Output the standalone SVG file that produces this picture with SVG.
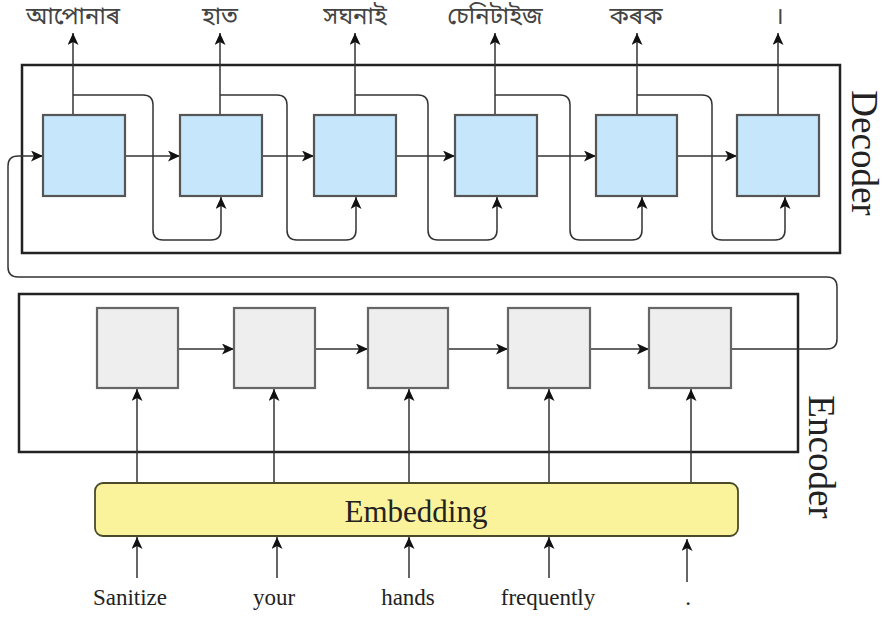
<svg xmlns="http://www.w3.org/2000/svg" width="886" height="617" viewBox="0 0 886 617">
<style>
.frame{fill:#fff;stroke:#222;stroke-width:2.5}
.dec{fill:#c5e6fb;stroke:#555;stroke-width:2.2}
.enc{fill:#eeeeee;stroke:#666;stroke-width:2.2}
.emb{fill:#fbf39b;stroke:#4a4a2a;stroke-width:1.8}
.ln{fill:none;stroke:#333;stroke-width:1.5}
.arr{marker-end:url(#ah)}
.en{font-family:"Liberation Serif","Times New Roman",serif;fill:#222}
.bn{font-family:"Noto Sans Bengali","Noto Serif Bengali","Lohit Bengali","Lohit Assamese","Mukti","FreeSerif",sans-serif;fill:#444;font-size:24px;text-anchor:middle}
</style>
<defs>
<marker id="ah" markerUnits="userSpaceOnUse" markerWidth="13" markerHeight="11" refX="12" refY="5.5" orient="auto">
<path d="M0,0 L12,5.5 L0,11 L3,5.5 z" fill="#111"/>
</marker>
</defs>
<g id="decoder-frame"><rect class="frame" x="22" y="65" width="818" height="188"/></g>
<g id="encoder-frame"><rect class="frame" x="19" y="294" width="779" height="158"/></g>
<g id="decoder-label"><text class="en" font-size="37" transform="translate(852,153) rotate(90)" text-anchor="middle">Decoder</text></g>
<g id="encoder-label"><text class="en" font-size="37" transform="translate(809,457) rotate(90)" text-anchor="middle">Encoder</text></g>

<g id="connectors">
<path class="ln arr" d="M73,115 V33"/>
<path class="ln arr" d="M220,115 V33"/>
<path class="ln arr" d="M355,115 V33"/>
<path class="ln arr" d="M495,115 V33"/>
<path class="ln arr" d="M637,115 V33"/>
<path class="ln arr" d="M778,115 V33"/>
<path class="ln arr" d="M73,95 H143 Q153,95 153,105 V230 Q153,240 163,240 H211 Q221,240 221,230 V197"/>
<path class="ln arr" d="M220,95 H277 Q287,95 287,105 V230 Q287,240 297,240 H346 Q356,240 356,230 V197"/>
<path class="ln arr" d="M355,95 H418 Q428,95 428,105 V230 Q428,240 438,240 H487 Q497,240 497,230 V197"/>
<path class="ln arr" d="M495,95 H560 Q570,95 570,105 V230 Q570,240 580,240 H632 Q642,240 642,230 V197"/>
<path class="ln arr" d="M637,95 H702 Q712,95 712,105 V230 Q712,240 722,240 H775 Q785,240 785,230 V197"/>
<path class="ln arr" d="M125,156 H180"/>
<path class="ln arr" d="M262,156 H314"/>
<path class="ln arr" d="M396,156 H455"/>
<path class="ln arr" d="M537,156 H596"/>
<path class="ln arr" d="M677,156 H737"/>
<path class="ln arr" d="M731,349 H827 Q837,349 837,339 V287 Q837,277 827,277 H18 Q8,277 8,267 V166 Q8,156 18,156 H43"/>
<path class="ln arr" d="M178,349 H234"/>
<path class="ln arr" d="M315,349 H368"/>
<path class="ln arr" d="M448,349 H508"/>
<path class="ln arr" d="M590,349 H649"/>
<path class="ln arr" d="M137,483 V389"/>
<path class="ln arr" d="M274,483 V389"/>
<path class="ln arr" d="M409,483 V389"/>
<path class="ln arr" d="M549,483 V389"/>
<path class="ln arr" d="M691,483 V389"/>
<path class="ln arr" d="M137,578 V537"/>
<path class="ln arr" d="M277,578 V537"/>
<path class="ln arr" d="M409,578 V537"/>
<path class="ln arr" d="M549,578 V537"/>
<path class="ln arr" d="M687,582 V539"/>
</g>

<g id="dec1"><rect class="dec" x="43" y="115" width="82" height="81"/></g>
<g id="dec2"><rect class="dec" x="180" y="115" width="82" height="81"/></g>
<g id="dec3"><rect class="dec" x="314" y="115" width="82" height="81"/></g>
<g id="dec4"><rect class="dec" x="455" y="115" width="82" height="81"/></g>
<g id="dec5"><rect class="dec" x="596" y="115" width="81" height="81"/></g>
<g id="dec6"><rect class="dec" x="737" y="115" width="82" height="81"/></g>

<g id="enc1"><rect class="enc" x="97" y="308" width="81" height="80"/></g>
<g id="enc2"><rect class="enc" x="234" y="308" width="81" height="80"/></g>
<g id="enc3"><rect class="enc" x="368" y="308" width="80" height="80"/></g>
<g id="enc4"><rect class="enc" x="508" y="308" width="82" height="80"/></g>
<g id="enc5"><rect class="enc" x="649" y="308" width="82" height="80"/></g>

<g id="embedding">
<rect class="emb" x="95" y="483" width="643" height="53" rx="8"/>
<text class="en" x="416" y="522" font-size="31" text-anchor="middle">Embedding</text>
</g>

<g id="outputs">
<text class="bn" x="73" y="24">আপোনাৰ</text>
<text class="bn" x="220" y="24">হাত</text>
<text class="bn" x="355" y="24">সঘনাই</text>
<text class="bn" x="495" y="24">চেনিটাইজ</text>
<text class="bn" x="636" y="24">কৰক</text>
<text class="bn" x="779" y="24">।</text>
</g>

<g id="inputs">
<text class="en" x="130" y="605" font-size="23" text-anchor="middle">Sanitize</text>
<text class="en" x="274" y="605" font-size="23" text-anchor="middle">your</text>
<text class="en" x="408" y="605" font-size="23" text-anchor="middle">hands</text>
<text class="en" x="548" y="605" font-size="23" text-anchor="middle">frequently</text>
<text class="en" x="688" y="605" font-size="23" text-anchor="middle">.</text>
</g>
</svg>
